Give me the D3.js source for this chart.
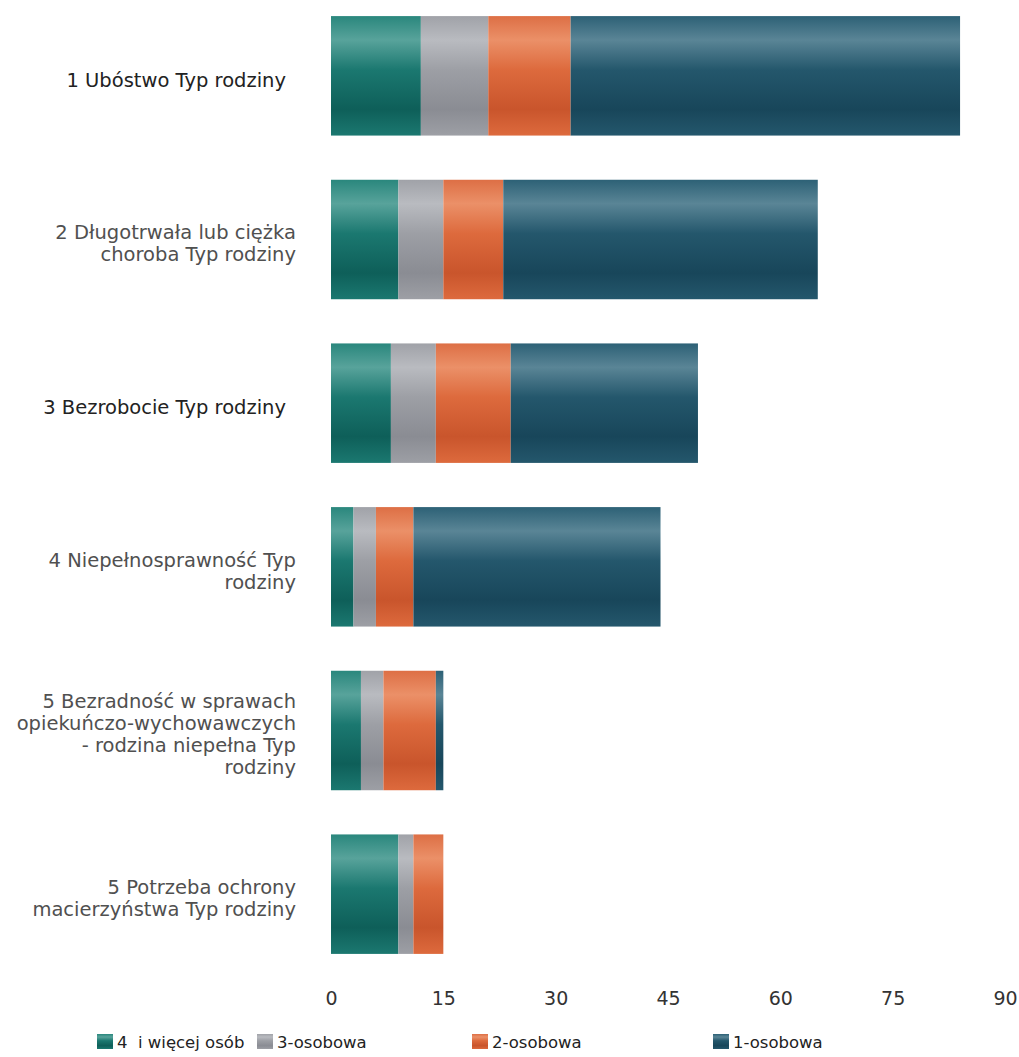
<!DOCTYPE html>
<html><head><meta charset="utf-8">
<script src="https://cdn.jsdelivr.net/npm/d3@7"></script>
<style>
html,body{margin:0;padding:0;background:#fff;}
svg{display:block;font-family:"DejaVu Sans",sans-serif;}
</style></head>
<body>
<svg id="chart" width="1019" height="1057"></svg>
<script>
// ---- data ----
const categories = [
  "1 Ubóstwo Typ rodziny",
  "2 Długotrwała lub ciężka|choroba Typ rodziny",
  "3 Bezrobocie Typ rodziny",
  "4 Niepełnosprawność Typ|rodziny",
  "5 Bezradność w sprawach|opiekuńczo-wychowawczych|- rodzina niepełna Typ|rodziny",
  "5 Potrzeba ochrony|macierzyństwa Typ rodziny"
];
const seriesNames = ["4  i więcej osób", "3-osobowa", "2-osobowa", "1-osobowa"];
const s4plus  = [12, 9, 8, 3, 4, 9];
const s3      = [9, 6, 6, 3, 3, 2];
const s2      = [11, 8, 10, 5, 7, 4];
const s1      = [52, 42, 25, 33, 1, 0];
const tickValues = [0, 15, 30, 45, 60, 75, 90];

const seriesValues = [s4plus, s3, s2, s1];
const palette = [
  {top:"#2a877d", hi:"#58a39b", mid:"#1b7870", low:"#0e5f59"},
  {top:"#a0a2a8", hi:"#b9bbc0", mid:"#9d9fa5", low:"#8a8c93"},
  {top:"#dd6f45", hi:"#eb9068", mid:"#dd6a3d", low:"#c9552c"},
  {top:"#2d6176", hi:"#5a8596", mid:"#24576c", low:"#18465a"}
];

const svg = d3.select("#chart");
const defs = svg.append("defs");
palette.forEach((p, i) => {
  const g = defs.append("linearGradient").attr("id", "g" + i)
    .attr("x1", 0).attr("y1", 0).attr("x2", 0).attr("y2", 1);
  [[0, p.top], [0.2, p.hi], [0.45, p.mid], [0.78, p.low], [1, p.mid]].forEach(([o, c]) =>
    g.append("stop").attr("offset", o).attr("stop-color", c));
});

const x = d3.scaleLinear().domain([0, 90]).range([331, 1005]);
const y = d3.scaleBand().domain(d3.range(categories.length))
  .range([-6, 976]).paddingInner(0.27).paddingOuter(0.135);

const stackData = categories.map((c, i) => {
  const o = {idx: i};
  seriesValues.forEach((arr, k) => o["s" + k] = arr[i]);
  return o;
});
const stack = d3.stack().keys(seriesValues.map((_, k) => "s" + k))(stackData);

svg.append("g").selectAll("g").data(stack).join("g")
  .attr("fill", (d, k) => `url(#g${k})`)
  .selectAll("rect").data(d => d.filter(e => e[1] - e[0] > 0)).join("rect")
  .attr("x", d => x(d[0]))
  .attr("y", d => y(d.data.idx))
  .attr("width", d => x(d[1]) - x(d[0]))
  .attr("height", y.bandwidth());

// category labels
const lab = svg.append("g").attr("font-size", 19.5);
categories.forEach((c, i) => {
  const lines = c.split("|");
  const lh = 22;
  const cy = y(i) + y.bandwidth() / 2 + 4;
  const t = lab.append("text").attr("text-anchor", "end")
    .attr("fill", lines.length === 1 ? "#222" : "#505050");
  lines.forEach((ln, j) => {
    t.append("tspan")
      .attr("x", lines.length === 1 ? 286 : 296)
      .attr("y", cy + (j - (lines.length - 1) / 2) * lh)
      .attr("dy", "0.35em")
      .text(ln);
  });
});

// x axis
const ax = svg.append("g").attr("transform", "translate(0,985)")
  .call(d3.axisBottom(x).tickValues(tickValues).tickSize(0).tickPadding(7));
ax.select(".domain").remove();
ax.selectAll("text").attr("font-size", 19).attr("fill", "#333")
  .attr("font-family", "DejaVu Sans, sans-serif");

// legend
const legendX = [97, 257, 472, 713];
const lg = svg.append("g").attr("transform", "translate(0,1042)");
seriesNames.forEach((n, k) => {
  const g = lg.append("g").attr("transform", `translate(${legendX[k]},0)`);
  g.append("rect").attr("x", 0).attr("y", -8).attr("width", 16).attr("height", 15)
    .attr("fill", `url(#g${k})`);
  g.append("text").attr("x", 20).attr("y", 0).attr("dy", "0.35em")
    .attr("font-size", 16.5).attr("fill", "#222").style("white-space", "pre").text(n);
});
</script>
</body></html>
